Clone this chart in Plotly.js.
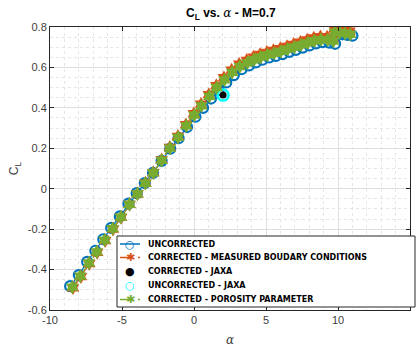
<!DOCTYPE html>
<html>
<head>
<meta charset="utf-8">
<script src="https://cdn.plot.ly/plotly-3.0.1.min.js"></script>
<style>html,body{margin:0;padding:0;background:#fff;}#chart{width:416px;height:350px;}</style>
</head>
<body>
<div id="chart"></div>
<script>
// ---- data ----
const alphaUncorrected = [-8.6,-8.0,-7.42,-6.85,-6.3,-5.75,-5.15,-4.55,-3.98,-3.42,-2.85,-2.25,-1.65,-1.07,-0.48,0.1,0.63,1.18,1.7,2.24,2.77,3.3,3.82,4.29,4.75,5.22,5.68,6.15,6.62,7.08,7.55,8.02,8.48,8.94,9.4,9.8,9.95,10.3,10.65,11.0];
const clUncorrected = [-0.482,-0.427,-0.362,-0.307,-0.25,-0.194,-0.137,-0.074,-0.022,0.028,0.078,0.138,0.198,0.25,0.305,0.356,0.4,0.446,0.488,0.526,0.562,0.591,0.61,0.625,0.638,0.649,0.657,0.666,0.677,0.687,0.698,0.709,0.719,0.725,0.723,0.717,0.765,0.764,0.761,0.757];

const alphaMeasuredBC = [-8.4,-7.85,-7.27,-6.72,-6.17,-5.62,-5.06,-4.47,-3.92,-3.37,-2.82,-2.25,-1.68,-1.12,-0.56,-0.01,0.49,1.03,1.55,2.08,2.61,3.14,3.66,4.13,4.59,5.06,5.52,5.99,6.46,6.92,7.39,7.86,8.32,8.78,9.24,9.64,9.74,10.08,10.44,10.8];
const clMeasuredBC = [-0.49,-0.435,-0.37,-0.315,-0.257,-0.2,-0.142,-0.078,-0.025,0.028,0.08,0.143,0.205,0.259,0.317,0.371,0.418,0.466,0.51,0.549,0.587,0.616,0.635,0.651,0.664,0.675,0.684,0.693,0.704,0.714,0.725,0.736,0.746,0.752,0.75,0.744,0.79,0.787,0.784,0.779];

const alphaCorrectedJaxa = [2.02];
const clCorrectedJaxa = [0.463];
const alphaUncorrectedJaxa = [2.02];
const clUncorrectedJaxa = [0.463];

const alphaPorosity = [-8.45,-7.9,-7.3,-6.75,-6.2,-5.65,-5.08,-4.48,-3.93,-3.38,-2.83,-2.25,-1.67,-1.1,-0.53,0.02,0.52,1.07,1.58,2.12,2.65,3.18,3.7,4.17,4.63,5.1,5.56,6.03,6.5,6.96,7.43,7.9,8.36,8.82,9.28,9.68,9.78,10.12,10.48,10.85];
const clPorosity = [-0.487,-0.432,-0.367,-0.312,-0.254,-0.198,-0.14,-0.077,-0.025,0.027,0.078,0.14,0.201,0.254,0.311,0.364,0.41,0.457,0.5,0.538,0.575,0.604,0.622,0.638,0.651,0.662,0.67,0.679,0.69,0.7,0.711,0.722,0.732,0.738,0.736,0.73,0.775,0.772,0.769,0.764];

const seriesNames = ['UNCORRECTED','CORRECTED - MEASURED BOUDARY CONDITIONS','CORRECTED - JAXA','UNCORRECTED - JAXA','CORRECTED - POROSITY PARAMETER'];
const seriesColors = ['#0072BD','#D95319','#000000','#00FFFF','#77AC30'];
const legendGlyphs = ['○','✱','●','○','✱'];
const legendHasLine = [true,true,false,false,true];
const xTickVals = [-10,-5,0,5,10,15];
const xTickText = ['-10','-5','0','5','10','15'];
const yTickVals = [-0.6,-0.4,-0.2,0,0.2,0.4,0.6,0.8];
const yTickText = ['-0.6','-0.4','-0.2','0','0.2','0.4','0.6','0.8'];

const traces = [
  {x:alphaUncorrected, y:clUncorrected, name:seriesNames[0], type:'scatter', mode:'lines+markers',
   line:{color:seriesColors[0], width:1.2}, marker:{symbol:'circle-open', size:10, color:seriesColors[0], line:{width:2.2, color:seriesColors[0]}}},
  {x:alphaMeasuredBC, y:clMeasuredBC, name:seriesNames[1], type:'scatter', mode:'lines+markers',
   line:{color:seriesColors[1], width:1.2, dash:'dash'}, marker:{symbol:'hexagram', size:11, color:seriesColors[1], line:{width:0}}},
  {x:alphaCorrectedJaxa, y:clCorrectedJaxa, name:seriesNames[2], type:'scatter', mode:'markers',
   marker:{symbol:'circle', size:7, color:seriesColors[2]}},
  {x:alphaUncorrectedJaxa, y:clUncorrectedJaxa, name:seriesNames[3], type:'scatter', mode:'markers',
   marker:{symbol:'circle-open', size:11, color:seriesColors[3], line:{width:2.5, color:seriesColors[3]}}},
  {x:alphaPorosity, y:clPorosity, name:seriesNames[4], type:'scatter', mode:'lines+markers',
   line:{color:seriesColors[4], width:1.2, dash:'dash'}, marker:{symbol:'hexagram', size:11, color:seriesColors[4], line:{width:0}}}
];

// ---- compact MATLAB-style legend (box + rows) ----
const W = 416, H = 350, M = {l:50, r:6, t:27, b:40};
const pw = W - M.l - M.r, ph = H - M.t - M.b;
const px2x = p => (p - M.l) / pw;
const py2y = p => (H - M.b - p) / ph;
const legBox = {x0:117, x1:415, y0:236, y1:307};
const rowPy = [244, 257.5, 271.5, 285.5, 299.5];
const shapes = [{type:'rect', xref:'paper', yref:'paper', x0:px2x(legBox.x0), x1:px2x(legBox.x1), y0:py2y(legBox.y1), y1:py2y(legBox.y0),
  fillcolor:'#ffffff', line:{color:'#262626', width:1}, layer:'above'}];
const annotations = [];
seriesNames.forEach((nm, i) => {
  const yy = py2y(rowPy[i]);
  if (legendHasLine[i]) {
    shapes.push({type:'line', xref:'paper', yref:'paper', x0:px2x(120), x1:px2x(140), y0:yy, y1:yy,
      line:{color:seriesColors[i], width:1.5, dash: i === 0 ? 'solid' : 'dash'}, layer:'above'});
  }
  annotations.push({xref:'paper', yref:'paper', x:px2x(130), y:yy, xanchor:'center', yanchor:'middle', showarrow:false,
    text:'<b>' + legendGlyphs[i] + '</b>',
    font:{family:'"DejaVu Sans", sans-serif', size:11, color:seriesColors[i]}});
  annotations.push({xref:'paper', yref:'paper', x:px2x(146), y:yy, xanchor:'left', yanchor:'middle', showarrow:false,
    text:'<b>' + nm + '</b>', font:{family:'"DejaVu Sans", sans-serif', size:8, color:'#000'}});
});

const axisCommon = {
  showline:true, linecolor:'#262626', linewidth:1, mirror:'ticks',
  ticks:'inside', ticklen:4, tickcolor:'#262626',
  showgrid:true, gridcolor:'#dedede', gridwidth:1,
  zeroline:false,
  tickfont:{family:'"Liberation Sans", Arial, sans-serif', size:11, color:'#404040'}
};

const layout = {
  width:W, height:H,
  margin:M,
  paper_bgcolor:'#ffffff', plot_bgcolor:'#ffffff',
  title:{text:'<b>C<sub>L</sub> vs. <span style="font-family:\'DejaVu Serif\',serif;font-style:italic;font-weight:normal">α</span> - M=0.7</b>',
         font:{family:'"Liberation Sans", Arial, sans-serif', size:12, color:'#000'}, x:0.555, xanchor:'center', y:0.975, yanchor:'top'},
  xaxis:Object.assign({}, axisCommon, {
    range:[-10,15], tickmode:'array', tickvals:xTickVals, ticktext:xTickText,
    minor:{dtick:1, showgrid:true, gridcolor:'#e6e6e6', griddash:'dot', ticks:''},
    title:{text:'<i>α</i>', font:{family:'"DejaVu Serif", serif', size:12, color:'#404040'}, standoff:10}
  }),
  yaxis:Object.assign({}, axisCommon, {
    range:[-0.6,0.8], tickmode:'array', tickvals:yTickVals, ticktext:yTickText,
    minor:{dtick:0.05, showgrid:true, gridcolor:'#e6e6e6', griddash:'dot', ticks:''},
    title:{text:'C<sub>L</sub>', font:{family:'"Liberation Sans", Arial, sans-serif', size:12, color:'#404040'}, standoff:6}
  }),
  showlegend:false,
  shapes:shapes,
  annotations:annotations
};

Plotly.newPlot('chart', traces, layout, {displayModeBar:false, staticPlot:true});
</script>
</body>
</html>
